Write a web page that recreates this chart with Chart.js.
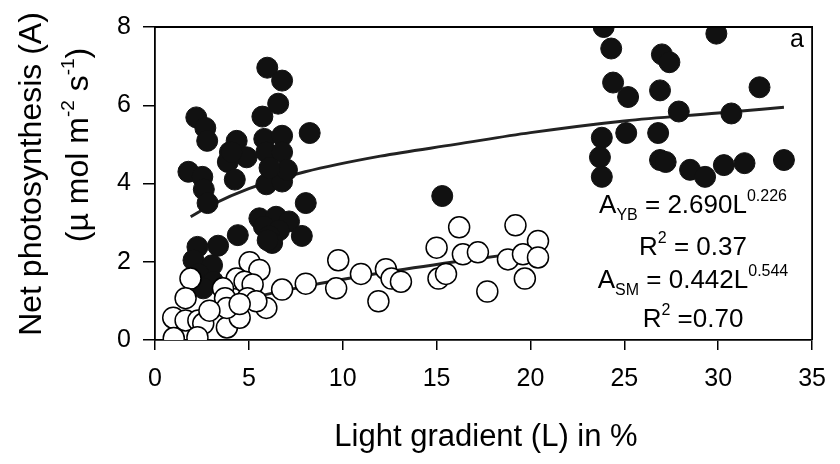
<!DOCTYPE html>
<html>
<head>
<meta charset="utf-8">
<script src="https://cdn.jsdelivr.net/npm/chart.js@4/dist/chart.umd.min.js"></script>
<style>
  html, body { margin: 0; padding: 0; background: #fff; }
  #wrap { width: 840px; height: 464px; }
</style>
</head>
<body>
<div id="wrap"><canvas id="photoChart" width="840" height="464"></canvas></div>
<script>
// Filled circles (YB)
const ybX = [5.98, 6.77, 6.56, 5.72, 2.2, 2.68, 2.78, 8.24, 4.35, 5.82, 6.77, 3.99, 4.88, 3.88, 5.93, 6.77,
  1.78, 2.52, 2.6, 4.25, 5.93, 6.77, 7.03, 8.03, 2.8, 4.09, 6.1,
  5.56, 6.45, 7.14, 5.8, 6.6, 4.41, 6.09, 7.82, 6.24, 6.0, 2.26, 3.36, 2.05, 3.04, 2.31, 3.1, 2.57,
  15.3,
  23.9, 24.3, 27.0, 27.4, 29.9, 24.4, 25.2, 26.9, 32.2, 27.9, 30.7, 23.8, 25.1, 26.8, 23.7, 23.8,
  26.9, 27.2, 28.5, 29.3, 30.3, 31.4, 33.5];
const ybY = [6.96, 6.63, 6.04, 5.71, 5.69, 5.42, 5.09, 5.29, 5.09, 5.14, 5.22, 4.8, 4.67, 4.55, 4.8, 4.8,
  4.3, 4.17, 3.85, 4.1, 3.98, 4.05, 4.35, 3.5, 3.5, 4.8, 4.4,
  3.11, 3.15, 3.03, 2.9, 2.8, 2.68, 2.66, 2.66, 2.48, 2.55, 2.38, 2.41, 2.04, 1.91, 1.69, 1.49, 1.32,
  3.68,
  8.0, 7.45, 7.3, 7.1, 7.83, 6.58, 6.21, 6.38, 6.46, 5.84, 5.79, 5.17, 5.29, 5.29, 4.67, 4.17,
  4.6, 4.55, 4.35, 4.17, 4.47, 4.52, 4.6];

// Open circles (SM)
const smX = [5.04, 5.56, 1.89, 4.35, 4.77, 3.62, 5.2, 1.63, 3.73, 4.93, 6.77, 8.03, 9.76, 9.65,
  0.97, 1.63, 2.31, 2.57, 2.26, 1.0, 3.83, 4.51, 5.93, 5.4, 3.83, 4.51, 2.9,
  16.2, 19.2, 15.0, 16.4, 17.2, 20.4, 18.8, 19.6, 20.4, 10.97, 12.3, 12.6, 13.1, 15.1, 15.5, 17.7, 19.7, 11.9];
const smY = [1.99, 1.79, 1.57, 1.57, 1.49, 1.32, 1.42, 1.07, 1.07, 1.07, 1.29, 1.44, 2.04, 1.32,
  0.57, 0.5, 0.5, 0.42, 0.07, 0.05, 0.32, 0.57, 0.82, 0.99, 0.82, 0.92, 0.75,
  2.88, 2.93, 2.36, 2.19, 2.24, 2.53, 2.06, 2.19, 2.11, 1.69, 1.81, 1.57, 1.49, 1.57, 1.69, 1.24, 1.57, 0.99];

// Fitted curves
const ybFitX = [1.9, 3, 5, 8, 12, 16, 20, 25, 30, 33.5];
const ybFitY = [3.15, 3.45, 3.87, 4.3, 4.7, 5.0, 5.3, 5.6, 5.8, 5.95];
const smFitX = [1, 2, 3, 5, 8, 12, 16, 20.5];
const smFitY = [0.45, 0.64, 0.8, 1.06, 1.37, 1.71, 2.0, 2.29];

const xTicks = [0, 5, 10, 15, 20, 25, 30, 35];
const yTicks = [0, 2, 4, 6, 8];

const FONT = '"Liberation Sans", Arial, sans-serif';

function pts(xs, ys) {
  return xs.map((x, i) => ({ x: x, y: ys[i] }));
}

// draw a line of text made of pieces (normal / sub / sup), centred on cx
function drawRich(ctx, parts, cx, base) {
  let w = 0;
  parts.forEach(p => {
    ctx.font = p.size + 'px ' + FONT;
    p.w = ctx.measureText(p.t).width;
    w += p.w;
  });
  let x = cx - w / 2;
  ctx.textAlign = 'left';
  ctx.textBaseline = 'alphabetic';
  parts.forEach(p => {
    ctx.font = p.size + 'px ' + FONT;
    ctx.fillText(p.t, x, base + (p.dy || 0));
    x += p.w;
  });
}

const textPlugin = {
  id: 'textPlugin',
  afterDraw(chart) {
    const ctx = chart.ctx;
    const a = chart.chartArea;
    ctx.save();
    ctx.strokeStyle = '#000';
    ctx.lineWidth = 1.8;
    ctx.beginPath();
    ctx.moveTo(a.left, a.top);
    ctx.lineTo(a.right, a.top);
    ctx.lineTo(a.right, a.bottom);
    ctx.stroke();

    ctx.fillStyle = '#000';
    ctx.font = '25px ' + FONT;
    ctx.textAlign = 'center';
    ctx.textBaseline = 'middle';
    ctx.fillText('a', 797, 40);

    const cx = 693;
    drawRich(ctx, [{ t: 'A', size: 26 }, { t: 'YB', size: 16, dy: 7 }, { t: ' = 2.690L', size: 26 }, { t: '0.226', size: 16, dy: -12 }], cx, 213);
    drawRich(ctx, [{ t: 'R', size: 26 }, { t: '2', size: 16, dy: -12 }, { t: ' = 0.37', size: 26 }], cx, 255);
    drawRich(ctx, [{ t: 'A', size: 26 }, { t: 'SM', size: 16, dy: 7 }, { t: ' = 0.442L', size: 26 }, { t: '0.544', size: 16, dy: -12 }], cx, 288);
    drawRich(ctx, [{ t: 'R', size: 26 }, { t: '2', size: 16, dy: -12 }, { t: ' =0.70', size: 26 }], cx, 327);

    // x axis title
    ctx.font = '31px ' + FONT;
    ctx.textAlign = 'center';
    ctx.textBaseline = 'middle';
    ctx.fillText('Light gradient (L) in %', 486, 437);

    // y axis title (rotated)
    ctx.save();
    ctx.translate(32, 174);
    ctx.rotate(-Math.PI / 2);
    ctx.font = '32px ' + FONT;
    ctx.textAlign = 'center';
    ctx.textBaseline = 'middle';
    ctx.fillText('Net photosynthesis (A)', 0, 0);
    ctx.restore();

    ctx.save();
    ctx.translate(77, 145);
    ctx.rotate(-Math.PI / 2);
    drawRich(ctx, [{ t: '(\u00b5 mol m', size: 32 }, { t: '-2', size: 19, dy: -14 }, { t: ' s', size: 32 }, { t: '-1', size: 19, dy: -14 }, { t: ')', size: 32 }], 0, 11);
    ctx.restore();
    ctx.restore();
  }
};

new Chart(document.getElementById('photoChart'), {
  type: 'scatter',
  data: {
    datasets: [
      {
        label: 'SM',
        data: pts(smX, smY),
        pointRadius: 10.5,
        pointBackgroundColor: '#fff',
        pointBorderColor: '#000',
        pointBorderWidth: 1.5
      },
      {
        label: 'YB',
        data: pts(ybX, ybY),
        pointRadius: 10.5,
        pointBackgroundColor: '#111',
        pointBorderColor: '#111',
        pointBorderWidth: 1
      },
      {
        label: 'YB fit',
        data: pts(ybFitX, ybFitY),
        showLine: true,
        pointRadius: 0,
        borderColor: '#222',
        borderWidth: 3,
        cubicInterpolationMode: 'monotone'
      },
      {
        label: 'SM fit',
        data: pts(smFitX, smFitY),
        showLine: true,
        pointRadius: 0,
        borderColor: '#222',
        borderWidth: 3,
        cubicInterpolationMode: 'monotone'
      }
    ]
  },
  options: {
    responsive: false,
    animation: false,
    layout: { padding: { left: 0, top: 17, right: 20, bottom: 0 } },
    plugins: { legend: { display: false }, tooltip: { enabled: false } },
    scales: {
      x: {
        type: 'linear',
        min: 0,
        max: 35,
        afterBuildTicks: s => { s.ticks = xTicks.map(v => ({ value: v })); },
        afterFit: s => { s.height = 124; },
        ticks: { color: '#000', padding: 14, font: { size: 25, family: FONT } },
        grid: { drawOnChartArea: false, drawTicks: true, tickLength: 10, color: '#000', lineWidth: 1.5 },
        border: { color: '#000', width: 1.8 }
      },
      y: {
        min: 0,
        max: 8,
        afterBuildTicks: s => { s.ticks = yTicks.map(v => ({ value: v })); },
        afterFit: s => { s.width = 155; },
        ticks: { color: '#000', padding: 12, font: { size: 25, family: FONT } },
        grid: { drawOnChartArea: false, drawTicks: true, tickLength: 12, color: '#000', lineWidth: 1.5 },
        border: { color: '#000', width: 1.8 }
      }
    }
  },
  plugins: [textPlugin]
});
</script>
</body>
</html>
